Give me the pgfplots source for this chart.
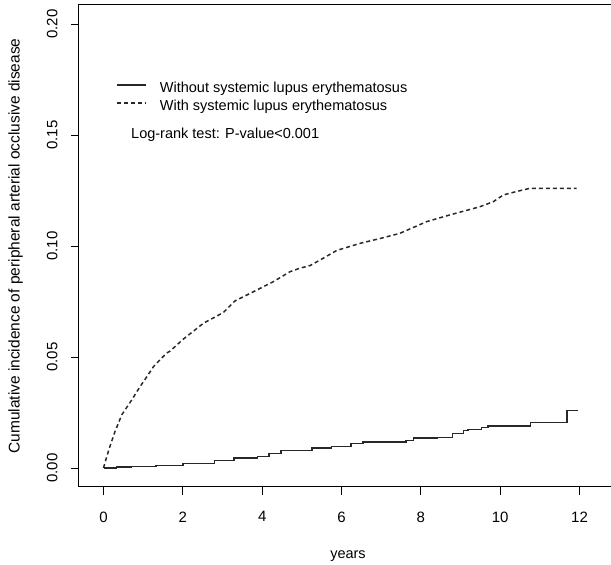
\documentclass[border=0pt]{standalone}
\usepackage{fontspec}
\setmainfont{Liberation Sans}
\usepackage{pgfplots}
\pgfplotsset{compat=1.18}
\definecolor{curve}{RGB}{40,40,40}

% Kaplan-Meier style cumulative incidence
\pgfplotstableread{
t v
0 0
0.33 0.0003
0.7 0.0006
1.32 0.0010
2.0 0.0021
2.8 0.0033
3.29 0.0044
3.88 0.0051
4.17 0.0066
4.47 0.0078
5.26 0.0089
5.75 0.0096
6.24 0.0111
6.54 0.0117
7.62 0.0123
7.81 0.0134
8.41 0.0137
8.80 0.0156
9.07 0.0168
9.19 0.0174
9.53 0.0182
9.69 0.0189
10.77 0.0204
11.68 0.0258
11.97 0.0258
}\without

\pgfplotstableread{
t v
0 0
0.08 0.0050
0.16 0.0096
0.29 0.0164
0.46 0.0239
0.71 0.0306
0.92 0.0366
1.05 0.0400
1.26 0.0456
1.34 0.0472
1.59 0.0517
1.68 0.0527
2.01 0.0580
2.52 0.0652
3.02 0.0700
3.31 0.0752
3.78 0.0794
4.28 0.0839
4.70 0.0884
4.95 0.0900
5.21 0.0912
5.54 0.0945
5.88 0.0980
6.47 0.1012
7.00 0.1035
7.47 0.1057
8.15 0.1110
8.73 0.1140
9.49 0.1177
9.83 0.1200
10.08 0.1230
10.40 0.1245
10.75 0.1260
11.93 0.1260
}\withsle

\begin{document}
\begin{tikzpicture}
\begin{axis}[
  scale only axis,
  width=538pt, height=482pt,
  xmin=-0.618, xmax=12.945,
  ymin=-0.0086, ymax=0.2086,
  xtick={0,2,4,6,8,10,12},
  ytick={0,0.05,0.1,0.15,0.2},
  xtick pos=left, ytick pos=left,
  tick align=outside,
  major tick length=8pt,
  tick style={black, line width=0.8pt},
  axis line style={line width=1pt},
  /pgf/number format/assume math mode=true,
  font=\fontsize{14.5}{17}\selectfont,
  ticklabel style={font=\fontsize{15}{17}\selectfont},
  xticklabel style={yshift=-13pt},
  yticklabel style={xshift=-10pt, rotate=90, anchor=south,
    /pgf/number format/fixed, /pgf/number format/fixed zerofill,
    /pgf/number format/precision=2},
  xlabel={years},
  ylabel={Cumulative incidence of peripheral arterial occlusive disease},
  xlabel style={at={(axis description cs:0.5,0)}, anchor=center, yshift=-69pt},
  ylabel style={at={(axis description cs:-0.118,0.5)}, anchor=center,
    font=\fontsize{15.5}{18}\selectfont},
  legend style={draw=none, fill=none, inner sep=0pt, outer sep=0pt,
    at={(axis description cs:0.0695,0.8434)}, anchor=north west,
    row sep=0pt, nodes={inner sep=1pt, text height=11pt, text depth=5pt},
    /tikz/every odd column/.append style={column sep=12pt}},
  legend cell align=left,
  legend image code/.code={\draw[#1] (0pt,4.5pt) -- (29pt,4.5pt);},
]
\addplot[curve, line width=1.5pt, const plot] table[x=t, y=v] {\without};
\addlegendentry{Without systemic lupus erythematosus}
\addplot[curve, line width=1.5pt, dash pattern=on 4pt off 3pt] table[x=t, y=v] {\withsle};
\addlegendentry{With systemic lupus erythematosus}
\node[anchor=west, inner sep=0pt] at (axis cs:0.693,0.15) {Log-rank test: P-value<0.001};
\coordinate (bl) at (rel axis cs:0,0);
\coordinate (tr) at (rel axis cs:1,1);
\end{axis}
\pgfresetboundingbox
\path ([shift={(-79pt,-78pt)}]bl) rectangle ([shift={(-6pt,5pt)}]tr);
\end{tikzpicture}
\end{document}
